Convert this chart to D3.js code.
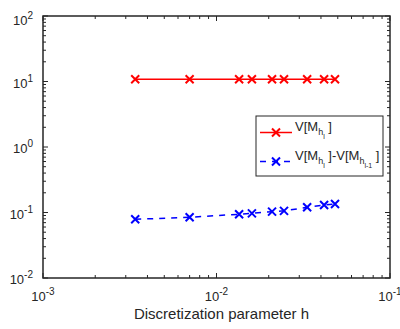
<!DOCTYPE html>
<html>
<head>
<meta charset="utf-8">
<script src="https://cdn.jsdelivr.net/npm/d3@7"></script>
<style>
  body { margin: 0; background: #fff; }
  svg { font-family: "Liberation Sans", Arial, sans-serif; }
</style>
</head>
<body>
<div id="chart"></div>
<script>
// discretization parameter h
const hValues = [0.0034, 0.0070, 0.0135, 0.0160, 0.0209, 0.0245, 0.0333, 0.0417, 0.0482];
// V[M_hl]
const varLevel = [10.8, 10.8, 10.8, 10.8, 10.8, 10.8, 10.8, 10.8, 10.8];
// V[M_hl] - V[M_hl-1]
const varDiff = [0.0787, 0.0845, 0.094, 0.097, 0.103, 0.106, 0.120, 0.130, 0.135];

const xTicks = [1e-3, 1e-2, 1e-1];
const yTicks = [1e-2, 1e-1, 1e0, 1e1, 1e2];

const width = 400, height = 329;
const margin = { left: 43, top: 16, right: 10, bottom: 51 };
const axisColor = "#262626";

const svg = d3.select("#chart").append("svg")
  .attr("width", width)
  .attr("height", height);

const x = d3.scaleLog().domain([1e-3, 1e-1]).range([margin.left, width - margin.right]);
const y = d3.scaleLog().domain([1e-2, 1e2]).range([height - margin.bottom, margin.top]);

const x0 = x.range()[0], x1 = x.range()[1];
const y0 = y.range()[0], y1 = y.range()[1];

// minor ticks (2..9 in each decade)
function minorTicks(domain) {
  const out = [];
  for (let e = Math.log10(domain[0]); e < Math.log10(domain[1]); e++) {
    for (let m = 2; m <= 9; m++) out.push(m * Math.pow(10, e));
  }
  return out;
}

const g = svg.append("g");

// ticks inside the box, on all four sides
const tickG = g.append("g").attr("stroke", axisColor).attr("stroke-width", 1);
minorTicks(x.domain()).forEach(v => {
  tickG.append("line").attr("x1", x(v)).attr("x2", x(v)).attr("y1", y0).attr("y2", y0 - 3);
  tickG.append("line").attr("x1", x(v)).attr("x2", x(v)).attr("y1", y1).attr("y2", y1 + 3);
});
xTicks.forEach(v => {
  tickG.append("line").attr("x1", x(v)).attr("x2", x(v)).attr("y1", y0).attr("y2", y0 - 5);
  tickG.append("line").attr("x1", x(v)).attr("x2", x(v)).attr("y1", y1).attr("y2", y1 + 5);
});
minorTicks(y.domain()).forEach(v => {
  tickG.append("line").attr("x1", x0).attr("x2", x0 + 3).attr("y1", y(v)).attr("y2", y(v));
  tickG.append("line").attr("x1", x1).attr("x2", x1 - 3).attr("y1", y(v)).attr("y2", y(v));
});
yTicks.forEach(v => {
  tickG.append("line").attr("x1", x0).attr("x2", x0 + 5).attr("y1", y(v)).attr("y2", y(v));
  tickG.append("line").attr("x1", x1).attr("x2", x1 - 5).attr("y1", y(v)).attr("y2", y(v));
});

// box
g.append("rect")
  .attr("x", x0).attr("y", y1)
  .attr("width", x1 - x0).attr("height", y0 - y1)
  .attr("fill", "none").attr("stroke", axisColor).attr("stroke-width", 1.5);

// tick labels as 10^e
function powLabel(sel, v) {
  const e = Math.round(Math.log10(v));
  sel.append("tspan").text("10");
  sel.append("tspan").attr("dy", -6).attr("font-size", 10).text(e);
}

xTicks.forEach(v => {
  const t = svg.append("text")
    .attr("x", x(v)).attr("y", y0 + 23)
    .attr("font-size", 13).attr("fill", axisColor)
    .attr("text-anchor", "middle");
  powLabel(t, v);
});
yTicks.forEach((v, i) => {
  // MATLAB nudges the top label down a little
  const shift = i === yTicks.length - 1 ? 9 : 6;
  const t = svg.append("text")
    .attr("x", x0 - 10).attr("y", y(v) + shift)
    .attr("font-size", 13).attr("fill", axisColor)
    .attr("text-anchor", "end");
  powLabel(t, v);
});

svg.append("text")
  .attr("x", 221.5).attr("y", 319)
  .attr("text-anchor", "middle")
  .attr("font-size", 15).attr("fill", axisColor)
  .text("Discretization parameter h");

// series
function cross(sel, cx, cy, color) {
  const s = 4;
  sel.append("path")
    .attr("d", `M${cx - s},${cy - s}L${cx + s},${cy + s}M${cx - s},${cy + s}L${cx + s},${cy - s}`)
    .attr("stroke", color).attr("stroke-width", 2).attr("fill", "none");
}

const series = [
  { values: varLevel, color: "#ff0000", dash: null },
  { values: varDiff, color: "#0000ff", dash: "6,6" }
];

series.forEach(s => {
  const pts = hValues.map((h, i) => [x(h), y(s.values[i])]);
  g.append("path")
    .attr("d", d3.line()(pts))
    .attr("fill", "none")
    .attr("stroke", s.color)
    .attr("stroke-width", 1.5)
    .attr("stroke-dasharray", s.dash);
  pts.forEach(p => cross(g, p[0], p[1], s.color));
});

// legend
const leg = svg.append("g");
leg.append("rect")
  .attr("x", 256).attr("y", 116).attr("width", 127).attr("height", 60)
  .attr("fill", "#fff").attr("stroke", axisColor).attr("stroke-width", 1);

const legRows = [
  { y: 132.5, color: "#ff0000", dash: null },
  { y: 161.5, color: "#0000ff", dash: "6,6" }
];
legRows.forEach(r => {
  leg.append("line")
    .attr("x1", 260).attr("x2", 292).attr("y1", r.y).attr("y2", r.y)
    .attr("stroke", r.color).attr("stroke-width", 1.5)
    .attr("stroke-dasharray", r.dash);
  cross(leg, 276, r.y, r.color);
});

function legText(ty, parts) {
  const t = leg.append("text")
    .attr("x", 295).attr("y", ty)
    .attr("font-size", 13).attr("fill", axisColor);
  parts.forEach(p => {
    t.append("tspan").attr("dy", p.dy || 0).attr("font-size", p.size || 13).text(p.t);
  });
}
legText(131, [
  { t: "V[M" }, { t: "h", dy: 4, size: 9 }, { t: "l", dy: 4, size: 7 }, { t: " ]", dy: -8 }
]);
legText(160, [
  { t: "V[M" }, { t: "h", dy: 4, size: 9 }, { t: "l", dy: 4, size: 7 }, { t: " ]-V[M", dy: -8 },
  { t: "h", dy: 4, size: 9 }, { t: "l-1", dy: 4, size: 7 }, { t: " ]", dy: -8 }
]);
</script>
</body>
</html>
